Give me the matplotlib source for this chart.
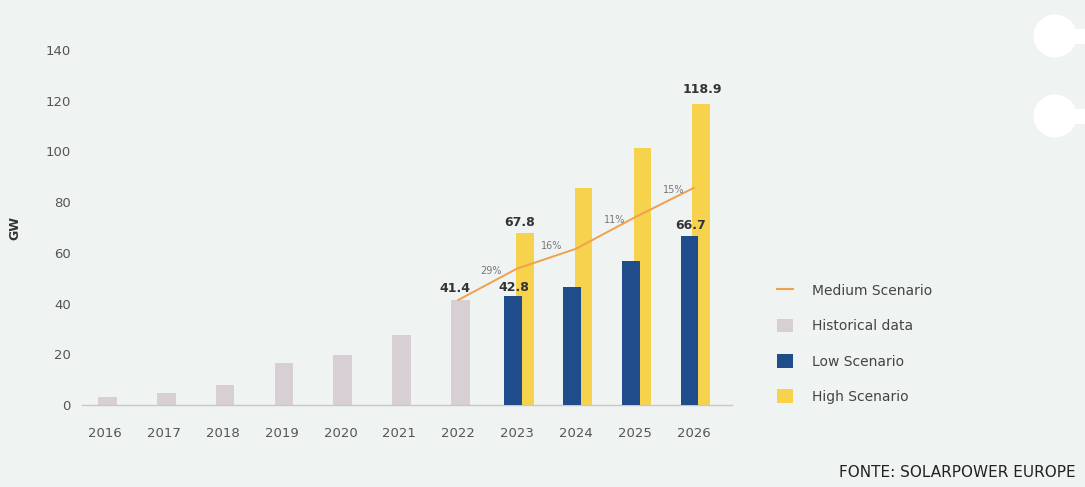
import matplotlib
matplotlib.use("Agg")
import matplotlib.pyplot as plt
from matplotlib.patches import Circle, Rectangle
from matplotlib.lines import Line2D
from matplotlib.patches import Patch

years = ["2016", "2017", "2018", "2019", "2020", "2021", "2022", "2023", "2024", "2025", "2026"]
historical = [3.3, 4.8, 7.9, 16.5, 19.7, 27.7, 41.4]
low_scenario = [42.8, 46.6, 56.8, 66.7]
high_scenario = [67.8, 85.6, 101.4, 118.9]
medium_scenario = [41.4, 53.8, 61.6, 74.0, 85.6]
growth_labels = ["29%", "16%", "11%", "15%"]
yticks = [0, 20, 40, 60, 80, 100, 120, 140]

BG = "#eff3f1"
C_HIST = "#d7cfd4"
C_LOW = "#1f4c8b"
C_HIGH = "#f6d24d"
C_MED = "#f0a04e"
TXT = "#555555"

fig = plt.figure(figsize=(10.85, 4.87), dpi=100, facecolor=BG)
ax = fig.add_axes([0.0756, 0.1684, 0.599, 0.7289], facecolor=BG)

x_hist = list(range(len(historical)))
x_proj = list(range(len(historical), len(years)))
x_med = list(range(len(historical) - 1, len(years)))

ax.bar([x + 0.04 for x in x_hist], historical, width=0.32, color=C_HIST, zorder=2)
ax.bar([x + 0.13 for x in x_proj], high_scenario, width=0.3, color=C_HIGH, zorder=2)
ax.bar([x - 0.07 for x in x_proj], low_scenario, width=0.3, color=C_LOW, zorder=3)
ax.plot(x_med, medium_scenario, color=C_MED, lw=1.4, zorder=4)

lab_kw = dict(ha="center", va="bottom", fontsize=9, color="#333333", fontweight="bold", zorder=5)
ax.text(x_hist[-1] - 0.05, historical[-1] + 1.8, f"{historical[-1]:.1f}", **lab_kw)
ax.text(x_proj[0] - 0.05, low_scenario[0] + 1.0, f"{low_scenario[0]:.1f}", **lab_kw)
ax.text(x_proj[-1] - 0.05, low_scenario[-1] + 1.5, f"{low_scenario[-1]:.1f}", **lab_kw)
ax.text(x_proj[0] + 0.05, high_scenario[0] + 1.5, f"{high_scenario[0]:.1f}", **lab_kw)
ax.text(x_proj[-1] + 0.15, high_scenario[-1] + 2.8, f"{high_scenario[-1]:.1f}", **lab_kw)

dxs = [0.06, 0.08, 0.15, 0.16]
for i, g in enumerate(growth_labels):
    xm = (x_med[i] + x_med[i + 1]) / 2
    ym = (medium_scenario[i] + medium_scenario[i + 1]) / 2
    ax.text(xm + dxs[i], ym + 3.2, g, ha="center", va="bottom", fontsize=7, color="#777777", zorder=5)

ax.set_xlim(-0.39, 10.65)
ax.set_ylim(0, 140)
ax.set_xticks(range(len(years)))
ax.set_xticklabels(years)
ax.set_yticks(yticks)
for s in ["top", "right", "left"]:
    ax.spines[s].set_visible(False)
ax.spines["bottom"].set_color("#c8c8c8")
ax.spines["bottom"].set_linewidth(1.0)
ax.tick_params(axis="both", length=0, labelsize=9.5, colors=TXT)
ax.tick_params(axis="x", pad=16)
ax.tick_params(axis="y", pad=8)
ax.set_ylabel("GW", fontsize=9, fontweight="bold", color="#333333")
ax.yaxis.set_label_coords(-0.094, 0.5)

handles = [
    Line2D([0], [0], color=C_MED, lw=1.5),
    Patch(facecolor=C_HIST),
    Patch(facecolor=C_LOW),
    Patch(facecolor=C_HIGH),
]
labels = ["Medium Scenario", "Historical data", "Low Scenario", "High Scenario"]
fig.legend(handles, labels, loc="upper left", bbox_to_anchor=(0.705, 0.443),
           frameon=False, fontsize=10, labelcolor="#444444", handlelength=1.1,
           handleheight=1.1, labelspacing=1.5, handletextpad=1.4)

fig.text(0.991, 0.03, "FONTE: SOLARPOWER EUROPE", ha="right", va="center",
         fontsize=11, color="#222222", family="DejaVu Sans")

# decorative shapes at top right, drawn in pixel space on an overlay axes
ov = fig.add_axes([0, 0, 1, 1], facecolor="none")
ov.set_xlim(0, 1085)
ov.set_ylim(487, 0)
ov.axis("off")
for cy in [36, 116]:
    ov.add_patch(Circle((1055, cy), 21.5, facecolor="white", edgecolor="none"))
    ov.add_patch(Rectangle((1060, cy - 7.5), 30, 15, facecolor="white", edgecolor="none"))

fig.savefig("out.png", dpi=100, facecolor=BG)
